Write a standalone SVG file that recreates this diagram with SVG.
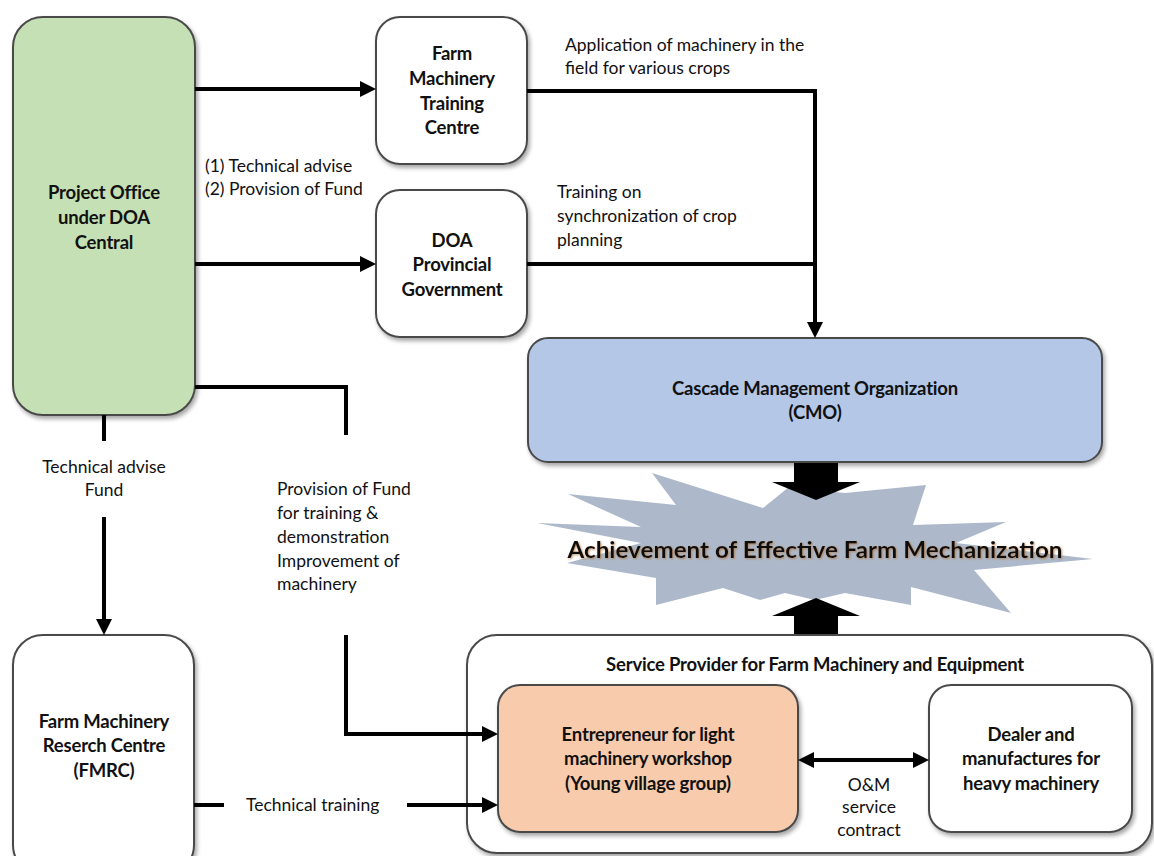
<svg xmlns="http://www.w3.org/2000/svg" width="1154" height="856" viewBox="0 0 1154 856">
  <defs>
    <style>
      .box { stroke: #4a4a4a; stroke-width: 2; filter: url(#shadow); }
      .plain { fill: #ffffff; }
      .green { fill: #c5e0b4; }
      .blue { fill: #b4c7e7; }
      .peach { fill: #f8cbad; }
      .node { font-family: Lato, "Liberation Sans", sans-serif; font-weight: bold; font-size: 18.5px; fill: #111; text-anchor: middle; letter-spacing: -0.2px; }
      .lbl { font-family: Lato, "Liberation Sans", sans-serif; font-size: 17.5px; fill: #111; }
      .mid { text-anchor: middle; }
      .wire { fill: none; stroke: #000; stroke-width: 4; }
      .big { fill: #000; }
      .title { font-family: Lato, "Liberation Sans", sans-serif; font-weight: bold; font-size: 23px; fill: #111; text-anchor: middle; filter: url(#glow); }
    </style>
    <filter id="shadow" x="-10%" y="-10%" width="130%" height="130%">
      <feDropShadow dx="2" dy="3" stdDeviation="2" flood-color="#000" flood-opacity="0.35"/>
    </filter>
    <filter id="glow" x="-5%" y="-30%" width="110%" height="160%">
      <feDropShadow dx="1" dy="1" stdDeviation="0.8" flood-color="#b07030" flood-opacity="0.7"/>
    </filter>
    <marker id="head" viewBox="0 0 16 16" markerWidth="16" markerHeight="16" refX="6" refY="8" markerUnits="userSpaceOnUse" orient="auto-start-reverse">
      <path d="M0,0 L16,8 L0,16 z" fill="#000"/>
    </marker>
  </defs>

  <!-- explosion shape behind the goal statement -->
  <g id="goal">
    <polygon fill="#adb9ca" points="537,523 641,527 568,494 676,505 652,473 763,508 789,487 845,493 926,485 913,525 1006,522 956,543 1093,559 974,570 1011,613 911,587 911,605 845,593 815,600 785,593 760,600 723,588 656,605 656,578 567,563 641,543"/>
  </g>

  <!-- block arrows into the goal -->
  <g id="block-arrows">
    <polygon class="big" points="794,462 838,462 838,482 860,482 816,500 772,482 794,482"/>
    <polygon class="big" points="794,636 838,636 838,616 860,616 816,598 772,616 794,616"/>
  </g>

  <text class="title" x="815" y="558" textLength="495" lengthAdjust="spacingAndGlyphs">Achievement of Effective Farm Mechanization</text>

  <!-- nodes -->
  <g id="project-office">
    <rect class="box green" x="13" y="17" width="182" height="398" rx="30"/>
    <text class="node" x="104" y="199">Project Office</text>
    <text class="node" x="104" y="224">under DOA</text>
    <text class="node" x="104" y="249">Central</text>
  </g>

  <g id="training-centre">
    <rect class="box plain" x="376" y="17" width="151" height="147" rx="24"/>
    <text class="node" x="452" y="60">Farm</text>
    <text class="node" x="452" y="85">Machinery</text>
    <text class="node" x="452" y="110">Training</text>
    <text class="node" x="452" y="134">Centre</text>
  </g>

  <g id="doa-provincial">
    <rect class="box plain" x="376" y="190" width="151" height="147" rx="24"/>
    <text class="node" x="452" y="247">DOA</text>
    <text class="node" x="452" y="271">Provincial</text>
    <text class="node" x="452" y="296">Government</text>
  </g>

  <g id="cmo">
    <rect class="box blue" x="528" y="338" width="574" height="124" rx="20"/>
    <text class="node" x="815" y="395">Cascade Management Organization</text>
    <text class="node" x="815" y="419">(CMO)</text>
  </g>

  <g id="fmrc">
    <rect class="box plain" x="13" y="635" width="181" height="240" rx="30"/>
    <text class="node" x="104" y="728">Farm Machinery</text>
    <text class="node" x="104" y="752">Reserch Centre</text>
    <text class="node" x="104" y="777">(FMRC)</text>
  </g>

  <g id="service-provider">
    <rect class="box plain" x="467" y="635" width="685" height="218" rx="30"/>
    <text class="node" x="815" y="671">Service Provider for Farm  Machinery and Equipment</text>
  </g>

  <g id="entrepreneur">
    <rect class="box peach" x="498" y="685" width="300" height="147" rx="22"/>
    <text class="node" x="648" y="741">Entrepreneur for light</text>
    <text class="node" x="648" y="765">machinery workshop</text>
    <text class="node" x="648" y="790">(Young village group)</text>
  </g>

  <g id="dealer">
    <rect class="box plain" x="929" y="685" width="203" height="147" rx="22"/>
    <text class="node" x="1031" y="741">Dealer and</text>
    <text class="node" x="1031" y="765">manufactures for</text>
    <text class="node" x="1031" y="790">heavy machinery</text>
  </g>

  <!-- connectors -->
  <g id="connectors">
    <path class="wire" d="M195,89 H366" marker-end="url(#head)"/>
    <path class="wire" d="M195,264 H366" marker-end="url(#head)"/>
    <path class="wire" d="M527,91 H815 V328" marker-end="url(#head)"/>
    <path class="wire" d="M527,264 H815"/>
    <path class="wire" d="M104,415 V441"/>
    <path class="wire" d="M104,517 V625" marker-end="url(#head)"/>
    <path class="wire" d="M195,387 H346 V435"/>
    <path class="wire" d="M346,635 V734 H488" marker-end="url(#head)"/>
    <path class="wire" d="M194,805 H224"/>
    <path class="wire" d="M407,805 H488" marker-end="url(#head)"/>
    <path class="wire" d="M808,760 H919" marker-start="url(#head)" marker-end="url(#head)"/>
  </g>

  <!-- connector labels -->
  <g id="labels">
    <text class="lbl" x="205" y="172">(1) Technical advise</text>
    <text class="lbl" x="205" y="195">(2) Provision of Fund</text>
    <text class="lbl" x="565" y="51">Application of machinery  in the</text>
    <text class="lbl" x="565" y="74">field for various crops</text>
    <text class="lbl" x="557" y="198">Training on</text>
    <text class="lbl" x="557" y="222">synchronization of crop</text>
    <text class="lbl" x="557" y="246">planning</text>
    <text class="lbl mid" x="104" y="473">Technical advise</text>
    <text class="lbl mid" x="104" y="496">Fund</text>
    <text class="lbl" x="277" y="495">Provision of Fund</text>
    <text class="lbl" x="277" y="519">for training &amp;</text>
    <text class="lbl" x="277" y="543">demonstration</text>
    <text class="lbl" x="277" y="567">Improvement of</text>
    <text class="lbl" x="277" y="590">machinery</text>
    <text class="lbl" x="246" y="811">Technical training</text>
    <text class="lbl mid" x="869" y="791">O&amp;M</text>
    <text class="lbl mid" x="869" y="813">service</text>
    <text class="lbl mid" x="869" y="836">contract</text>
  </g>
</svg>
